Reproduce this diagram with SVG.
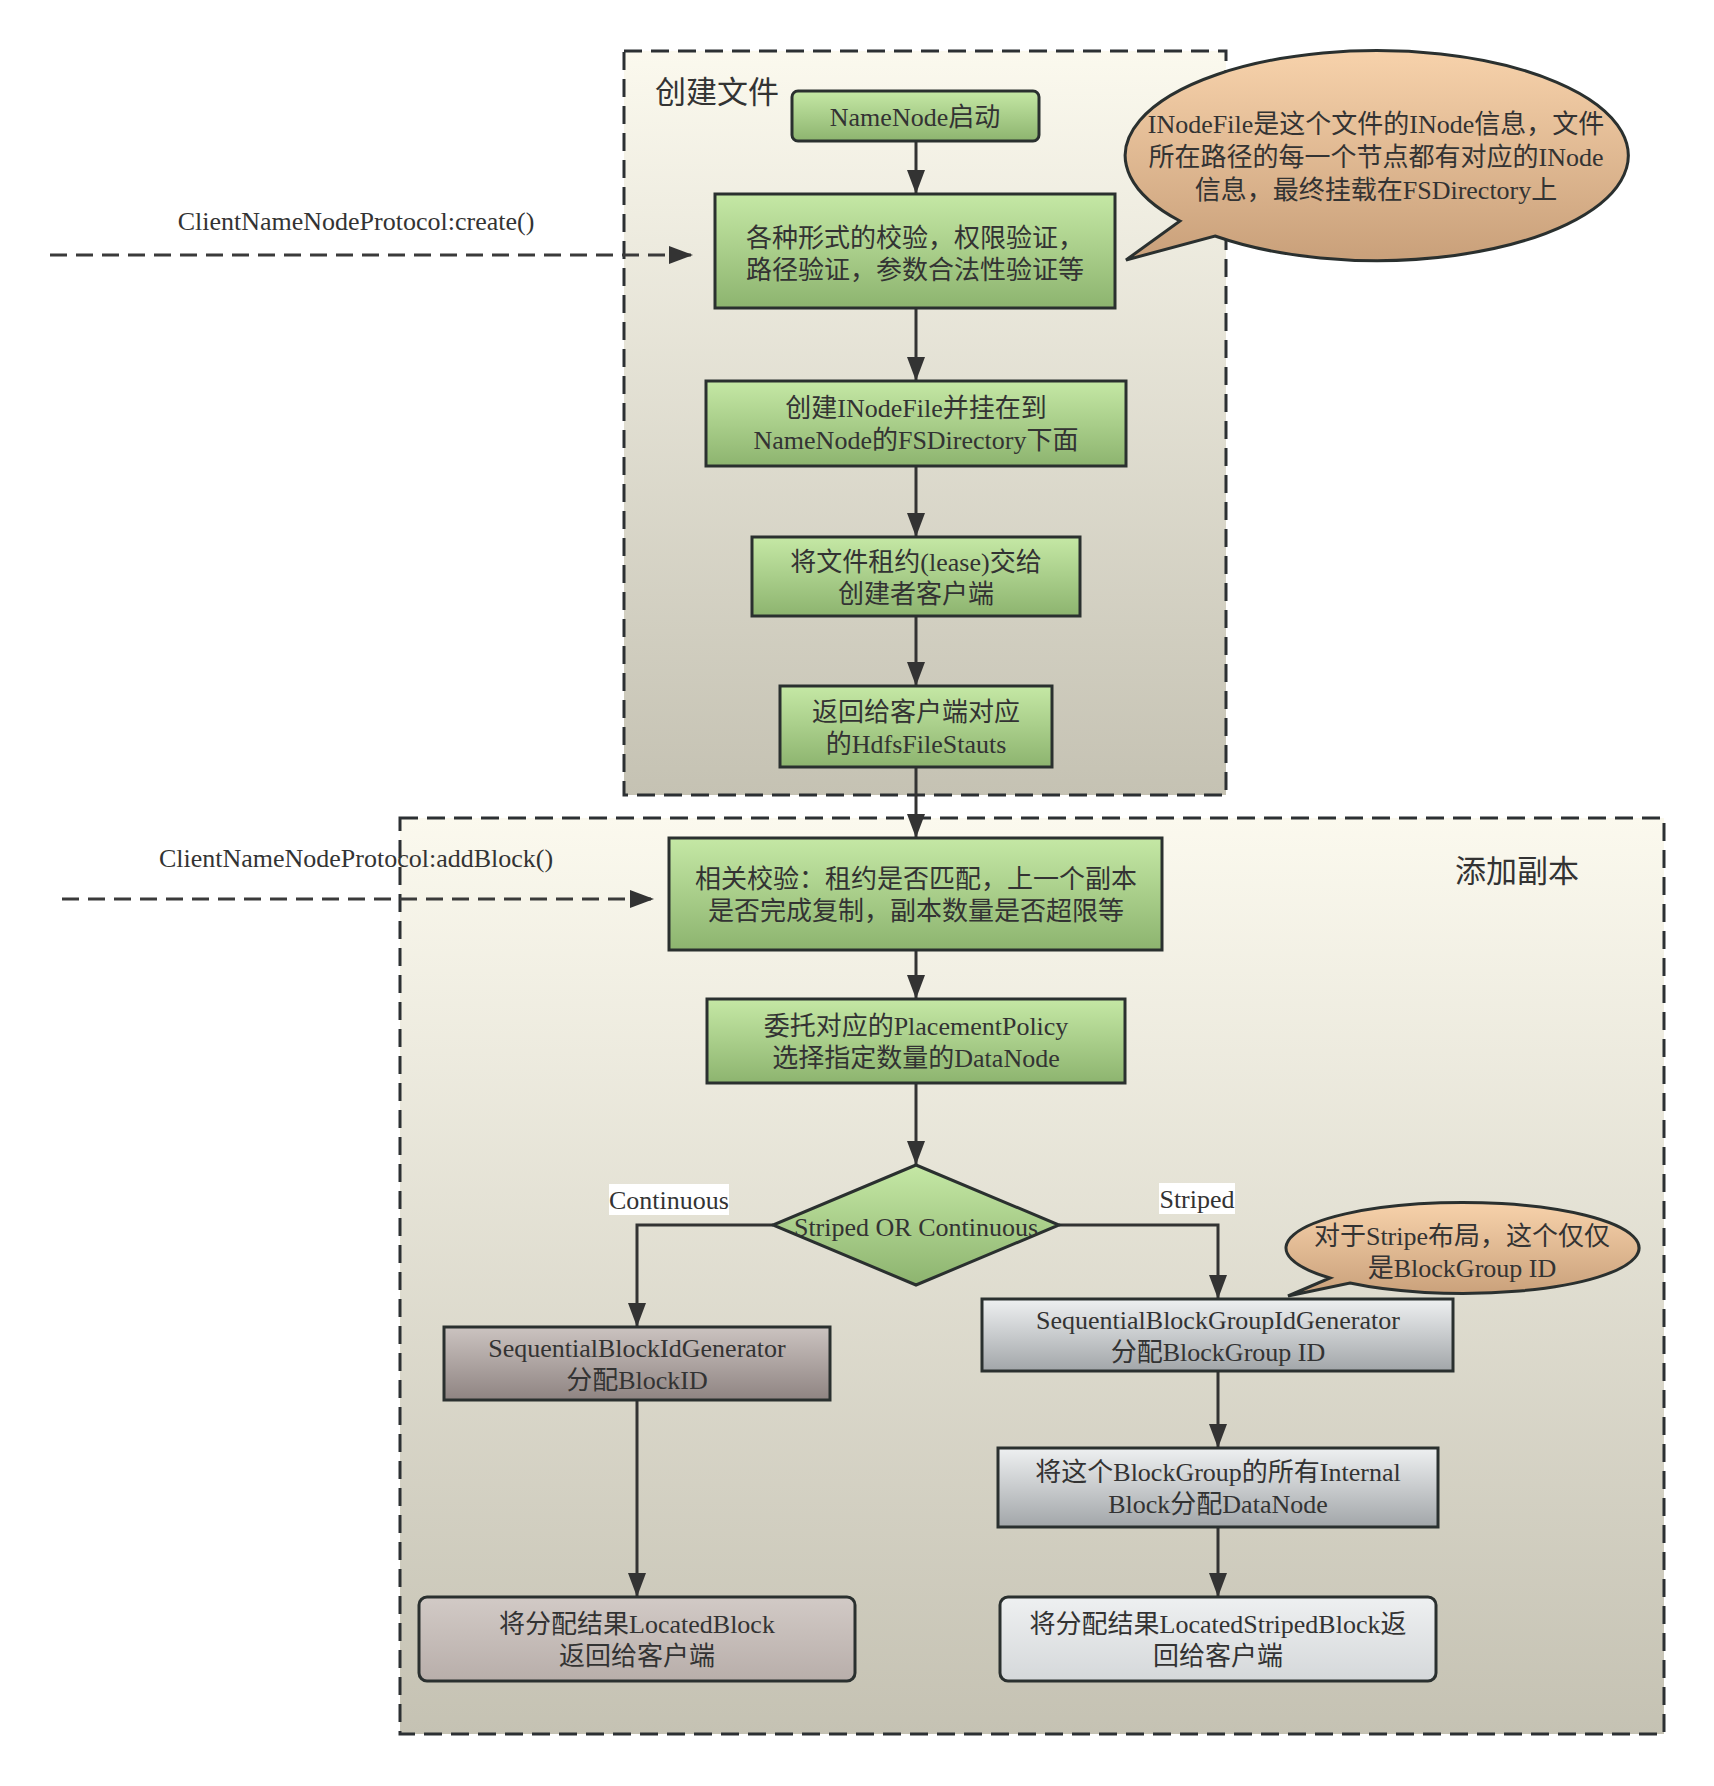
<svg xmlns="http://www.w3.org/2000/svg" width="1714" height="1786" viewBox="0 0 1714 1786">
<defs>
<linearGradient id="gGroup" x1="0" y1="0" x2="0" y2="1"><stop offset="0" stop-color="#fbf9ee"/><stop offset="1" stop-color="#c5c2b3"/></linearGradient>
<linearGradient id="gGreen" x1="0" y1="0" x2="0" y2="1"><stop offset="0" stop-color="#c5e8a5"/><stop offset="1" stop-color="#8db46f"/></linearGradient>
<linearGradient id="gBrown" x1="0" y1="0" x2="0" y2="1"><stop offset="0" stop-color="#cbc3c0"/><stop offset="1" stop-color="#8f8482"/></linearGradient>
<linearGradient id="gBrownL" x1="0" y1="0" x2="0" y2="1"><stop offset="0" stop-color="#d2cac6"/><stop offset="1" stop-color="#b8aeaa"/></linearGradient>
<linearGradient id="gGray" x1="0" y1="0" x2="0" y2="1"><stop offset="0" stop-color="#eef0f1"/><stop offset="1" stop-color="#a2a6a9"/></linearGradient>
<linearGradient id="gGrayL" x1="0" y1="0" x2="0" y2="1"><stop offset="0" stop-color="#eef0f1"/><stop offset="1" stop-color="#d5d8da"/></linearGradient>
<linearGradient id="gCallout" x1="0" y1="0" x2="0" y2="1"><stop offset="0" stop-color="#f7d2ab"/><stop offset="1" stop-color="#c9a07a"/></linearGradient>
<marker id="arr" viewBox="0 0 24 18" refX="24" refY="9" markerWidth="24" markerHeight="18" markerUnits="userSpaceOnUse" orient="auto"><path d="M0,0 L24,9 L0,18 z" fill="#333"/></marker>
<style>
.grp{stroke:#2c3033;stroke-width:3;stroke-dasharray:18 9;fill:url(#gGroup)}
.node{stroke:#2a302f;stroke-width:3}
.green{fill:url(#gGreen)}
.t{font-family:"Liberation Serif","Noto Sans CJK SC",serif;font-size:26px;fill:#333;text-anchor:middle}
.title{font-family:"Liberation Serif","Noto Sans CJK SC",serif;font-size:31px;fill:#333}
.conn{stroke:#333;stroke-width:3;fill:none;marker-end:url(#arr)}
.dash{stroke:#3a3a3a;stroke-width:3;fill:none;stroke-dasharray:17 9;marker-end:url(#arr)}
.call{fill:url(#gCallout);stroke:#2a302f;stroke-width:3}
</style>
</defs>

<g id="group-create">
<rect class="grp" x="624" y="51" width="602" height="744"/>
<text class="title" x="655" y="103">创建文件</text>
</g>
<g id="group-addblock">
<rect class="grp" x="400" y="818" width="1264" height="916"/>
<text class="title" x="1455" y="882">添加副本</text>
</g>

<g id="connectors">
<line class="dash" x1="50" y1="255" x2="693" y2="255"/>
<text class="t" x="356" y="230">ClientNameNodeProtocol:create()</text>
<line class="dash" x1="62" y1="899" x2="654" y2="899"/>
<text class="t" x="356" y="867">ClientNameNodeProtocol:addBlock()</text>
<line class="conn" x1="916" y1="141" x2="916" y2="194"/>
<line class="conn" x1="916" y1="308" x2="916" y2="381"/>
<line class="conn" x1="916" y1="466" x2="916" y2="537"/>
<line class="conn" x1="916" y1="616" x2="916" y2="686"/>
<line class="conn" x1="916" y1="767" x2="916" y2="838"/>
<line class="conn" x1="916" y1="950" x2="916" y2="999"/>
<line class="conn" x1="916" y1="1083" x2="916" y2="1165"/>
<polyline class="conn" points="773,1225 637,1225 637,1327"/>
<rect x="609" y="1184" width="120" height="31" fill="#fff"/>
<text class="t" x="669" y="1209">Continuous</text>
<polyline class="conn" points="1059,1225 1218,1225 1218,1299"/>
<rect x="1159" y="1183" width="76" height="31" fill="#fff"/>
<text class="t" x="1197" y="1208">Striped</text>
<line class="conn" x1="637" y1="1400" x2="637" y2="1597"/>
<line class="conn" x1="1218" y1="1371" x2="1218" y2="1448"/>
<line class="conn" x1="1218" y1="1527" x2="1218" y2="1597"/>
</g>

<g id="n-start">
<rect class="node green" x="792" y="91" width="247" height="50" rx="6"/>
<text class="t" x="915" y="126">NameNode启动</text>
</g>
<g id="n-check">
<rect class="node green" x="715" y="194" width="400" height="114"/>
<text class="t" x="915" y="247">各种形式的校验，权限验证，</text>
<text class="t" x="915" y="279">路径验证，参数合法性验证等</text>
</g>
<g id="n-inode">
<rect class="node green" x="706" y="381" width="420" height="85"/>
<text class="t" x="916" y="417">创建INodeFile并挂在到</text>
<text class="t" x="916" y="449">NameNode的FSDirectory下面</text>
</g>
<g id="n-lease">
<rect class="node green" x="752" y="537" width="328" height="79"/>
<text class="t" x="916" y="571">将文件租约(lease)交给</text>
<text class="t" x="916" y="603">创建者客户端</text>
</g>
<g id="n-status">
<rect class="node green" x="780" y="686" width="272" height="81"/>
<text class="t" x="916" y="721">返回给客户端对应</text>
<text class="t" x="916" y="753">的HdfsFileStauts</text>
</g>
<g id="n-verify">
<rect class="node green" x="669" y="838" width="493" height="112"/>
<text class="t" x="916" y="888">相关校验：租约是否匹配，上一个副本</text>
<text class="t" x="916" y="920">是否完成复制，副本数量是否超限等</text>
</g>
<g id="n-policy">
<rect class="node green" x="707" y="999" width="418" height="84"/>
<text class="t" x="916" y="1035">委托对应的PlacementPolicy</text>
<text class="t" x="916" y="1067">选择指定数量的DataNode</text>
</g>
<g id="n-decision">
<polygon class="node green" points="916,1165 1059,1225 916,1285 773,1225"/>
<text class="t" x="916" y="1236">Striped OR Continuous</text>
</g>
<g id="n-blockid">
<rect class="node" fill="url(#gBrown)" x="444" y="1327" width="386" height="73"/>
<text class="t" x="637" y="1357">SequentialBlockIdGenerator</text>
<text class="t" x="637" y="1389">分配BlockID</text>
</g>
<g id="n-located">
<rect class="node" fill="url(#gBrownL)" x="419" y="1597" width="436" height="84" rx="8"/>
<text class="t" x="637" y="1633">将分配结果LocatedBlock</text>
<text class="t" x="637" y="1665">返回给客户端</text>
</g>
<g id="n-groupid">
<rect class="node" fill="url(#gGray)" x="982" y="1299" width="471" height="72"/>
<text class="t" x="1218" y="1329">SequentialBlockGroupIdGenerator</text>
<text class="t" x="1218" y="1361">分配BlockGroup ID</text>
</g>
<g id="n-internal">
<rect class="node" fill="url(#gGray)" x="998" y="1448" width="440" height="79"/>
<text class="t" x="1218" y="1481">将这个BlockGroup的所有Internal</text>
<text class="t" x="1218" y="1513">Block分配DataNode</text>
</g>
<g id="n-striped">
<rect class="node" fill="url(#gGrayL)" x="1000" y="1597" width="436" height="84" rx="8"/>
<text class="t" x="1218" y="1633">将分配结果LocatedStripedBlock返</text>
<text class="t" x="1218" y="1665">回给客户端</text>
</g>

<g id="callout-inode">
<path class="call" d="M1180,221 A251.5,105 0 1 1 1215,236 L1126,260 Z"/>
<text class="t" x="1376" y="133">INodeFile是这个文件的INode信息，文件</text>
<text class="t" x="1376" y="166">所在路径的每一个节点都有对应的INode</text>
<text class="t" x="1376" y="199">信息，最终挂载在FSDirectory上</text>
</g>
<g id="callout-stripe">
<path class="call" d="M1330,1278 A176.5,45.5 0 1 1 1350,1283 L1288,1296 Z"/>
<text class="t" x="1462" y="1245">对于Stripe布局，这个仅仅</text>
<text class="t" x="1462" y="1277">是BlockGroup ID</text>
</g>
</svg>
